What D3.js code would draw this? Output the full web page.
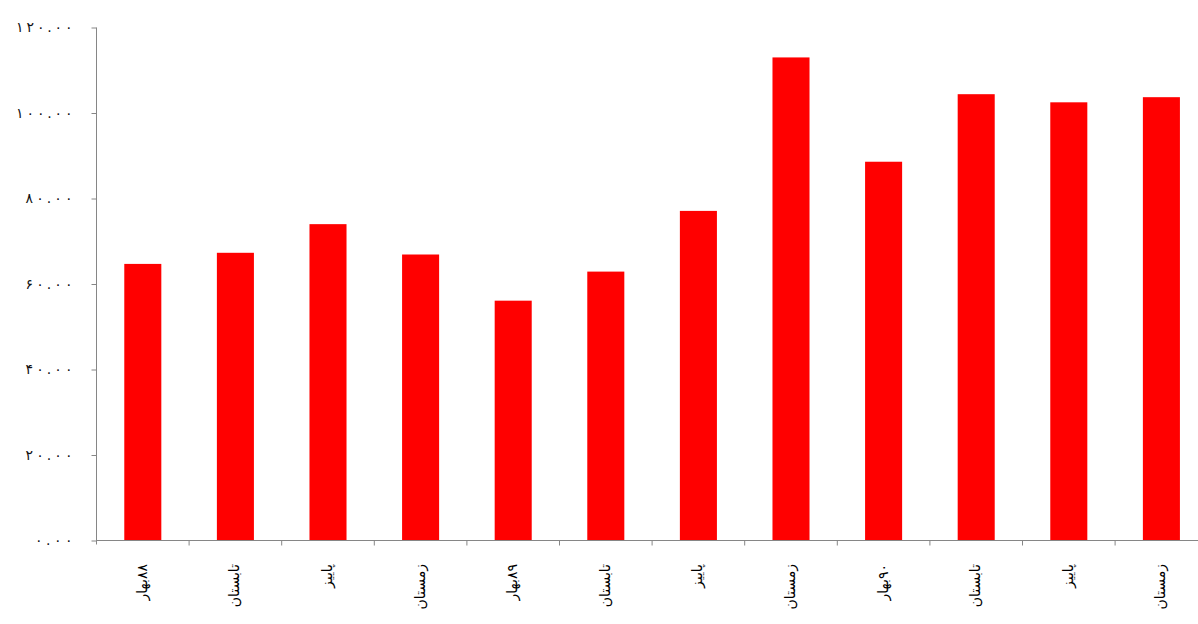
<!DOCTYPE html>
<html>
<head>
<meta charset="utf-8">
<script src="https://cdn.jsdelivr.net/npm/d3@7"></script>
<style>
  html, body { margin: 0; padding: 0; background: #ffffff; }
  svg { display: block; }
</style>
</head>
<body>
<svg id="chart" width="1198" height="624"></svg>
<script>
// ---- data ----
const categories = ["۸۸بهار", "تابستان", "پاییز", "زمستان", "۸۹بهار", "تابستان", "پاییز", "زمستان", "۹۰بهار", "تابستان", "پاییز", "زمستان"];
const values = [64.7, 67.3, 74.0, 66.9, 56.1, 62.9, 77.1, 113.0, 88.6, 104.4, 102.5, 103.7];
const yTicks = [0, 20, 40, 60, 80, 100, 120];
const yTickLabels = ["۰.۰۰", "۲۰.۰۰", "۴۰.۰۰", "۶۰.۰۰", "۸۰.۰۰", "۱۰۰.۰۰", "۱۲۰.۰۰"];

// ---- layout ----
const svg = d3.select("#chart");
const x0 = 96.5, plotBottom = 540.5, plotTop = 27.5;
const step = 92.6;
const x = d3.scaleBand()
  .domain(d3.range(categories.length))
  .range([x0, x0 + step * categories.length])
  .paddingInner(0.6)
  .paddingOuter(0.3);
const y = d3.scaleLinear().domain([0, 120]).range([plotBottom, plotTop]);

const axisColor = "#868686";

// bars
svg.append("g").selectAll("rect")
  .data(values)
  .join("rect")
  .attr("x", (d, i) => x(i))
  .attr("y", d => y(d))
  .attr("width", x.bandwidth())
  .attr("height", d => y(0) - y(d))
  .attr("fill", "#ff0000");

// y axis
const yAxis = d3.axisLeft(y)
  .tickValues(yTicks)
  .tickFormat((d, i) => yTickLabels[i])
  .tickSize(5)
  .tickPadding(19);
const gy = svg.append("g").attr("transform", `translate(${x0},0)`).call(yAxis);
gy.select(".domain").attr("stroke", axisColor).attr("d", `M0,${plotTop}V${plotBottom + 4}`);
gy.selectAll(".tick line").attr("stroke", axisColor);
gy.selectAll(".tick text")
  .attr("fill", "#111")
  .attr("font-family", "'DejaVu Sans', sans-serif")
  .attr("font-size", 14)
  .attr("lengthAdjust", "spacing")
  .attr("textLength", (d, i) => yTickLabels[i].length * 9.4);

// x axis (ticks between categories)
const xEdges = d3.range(categories.length + 1).map(i => x0 + step * i);
const gx = svg.append("g");
gx.append("line")
  .attr("x1", x0).attr("x2", x0 + step * categories.length)
  .attr("y1", plotBottom).attr("y2", plotBottom)
  .attr("stroke", axisColor);
gx.selectAll("line.tk")
  .data(xEdges.slice(1))
  .join("line")
  .attr("class", "tk")
  .attr("x1", d => d).attr("x2", d => d)
  .attr("y1", plotBottom).attr("y2", plotBottom + 5)
  .attr("stroke", axisColor);

gx.selectAll("text")
  .data(categories)
  .join("text")
  .attr("transform", (d, i) => `translate(${x(i) + x.bandwidth() / 2 + 4},564) rotate(-90)`)
  .attr("direction", "rtl")
  .attr("text-anchor", "start")
  .style("font-family", "'DejaVu Sans', sans-serif")
  .style("font-size", "14px")
  .attr("fill", "#000")
  .text(d => d);
</script>
</body>
</html>
